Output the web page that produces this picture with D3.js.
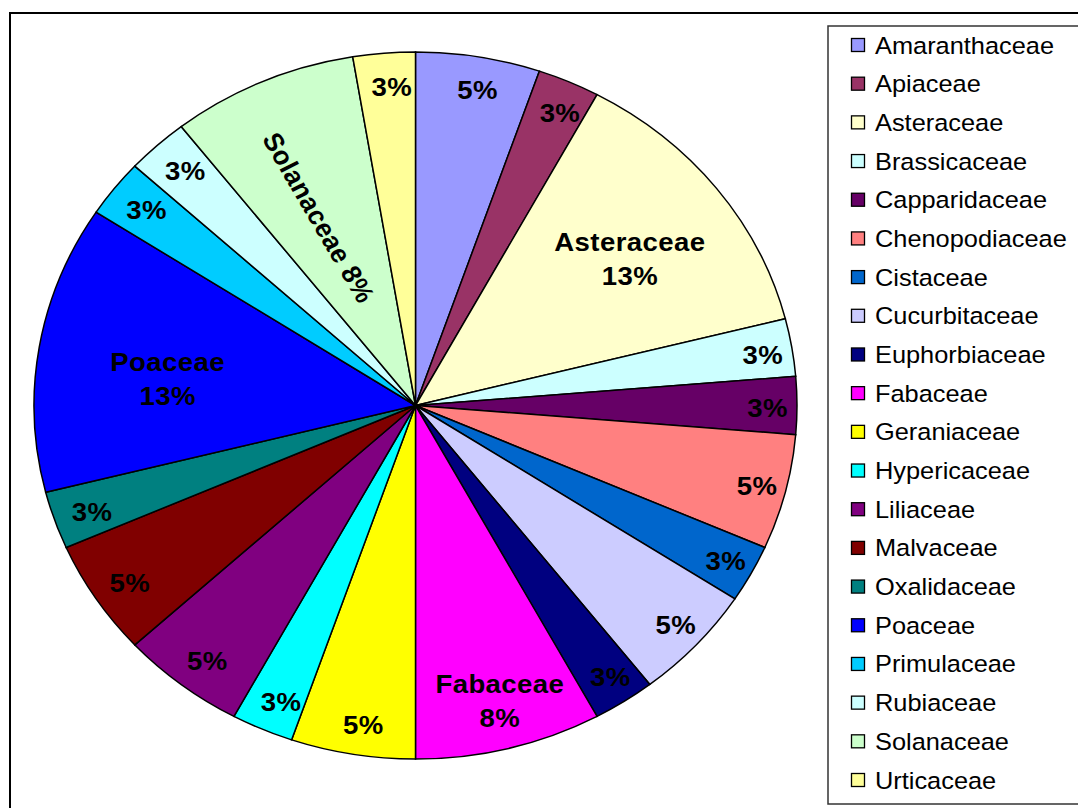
<!DOCTYPE html>
<html><head><meta charset="utf-8">
<script src="https://cdn.jsdelivr.net/npm/d3@7"></script>
<style>html,body{margin:0;padding:0;background:#fff;}svg{display:block;}</style>
</head><body>
<svg id="chart" width="1078" height="808"></svg>
<script>
const categories = ["Amaranthaceae","Apiaceae","Asteraceae","Brassicaceae","Capparidaceae","Chenopodiaceae","Cistaceae","Cucurbitaceae","Euphorbiaceae","Fabaceae","Geraniaceae","Hypericaceae","Liliaceae","Malvaceae","Oxalidaceae","Poaceae","Primulaceae","Rubiaceae","Solanaceae","Urticaceae"];
const counts = [2,1,5,1,1,2,1,2,1,3,2,1,2,2,1,5,1,1,3,1];
const colors = ["#9999FF","#993366","#FFFFCC","#CCFFFF","#660066","#FF8080","#0066CC","#CCCCFF","#000080","#FF00FF","#FFFF00","#00FFFF","#800080","#800000","#008080","#0000FF","#00CCFF","#CCFFFF","#CCFFCC","#FFFF99"];
// label styling: which slices also show the category name
const namedLabels = {"Asteraceae":"stack","Poaceae":"stack","Fabaceae":"stack","Solanaceae":"rotate"};
const labelRadius = {"Asteraceae":0.699,"Poaceae":0.654,"Fabaceae":0.865,"Solanaceae":0.589};
const labelAngleShift = {"Asteraceae":1.4,"Poaceae":-2.9,"Fabaceae":-0.6,"Solanaceae":-1.8};

const svg = d3.select("#chart");
const cx = 415.5, cy = 405.5, ry = 353.5, rx = 381.5, sx = rx / ry;
const font = "'Liberation Sans', Arial, sans-serif";

// outer frame
svg.append("rect").attr("x",10).attr("y",13).attr("width",1090).attr("height",820)
  .attr("fill","none").attr("stroke","#000").attr("stroke-width",2);

const total = d3.sum(counts);
const data = categories.map((c,i)=>({name:c, value:counts[i], color:colors[i]}));
const pie = d3.pie().value(d=>d.value).sort(null);
const arcs = pie(data);
const arc = d3.arc().innerRadius(0).outerRadius(ry);

const pg = svg.append("g").attr("transform",`translate(${cx},${cy}) scale(${sx},1)`);
pg.selectAll("path").data(arcs).join("path")
  .attr("d",arc).attr("fill",d=>d.data.color)
  .attr("stroke","#000").attr("stroke-width",1.5)
  .attr("vector-effect","non-scaling-stroke");

const fmt = v => Math.round(v/total*100) + "%";
const lg = svg.append("g");
arcs.forEach(a=>{
  const name = a.data.name;
  const mode = namedLabels[name];
  const frac = labelRadius[name] || 0.91;
  const mid = (a.startAngle + a.endAngle)/2 + (labelAngleShift[name]||0)*Math.PI/180;
  const la = d3.arc().innerRadius(ry*frac).outerRadius(ry*frac);
  const c = la.centroid({startAngle:mid,endAngle:mid});
  let x = cx + c[0]*sx, y = cy + c[1];
  if (!mode) { x += 5; y += 2; }
  const pct = fmt(a.data.value);
  const g = lg.append("g");
  const t = g.append("text").attr("text-anchor","middle").attr("font-family",font)
    .attr("font-weight","bold").attr("font-size",25.5).attr("fill","#000")
    .attr("letter-spacing",0.4);
  if (mode === "stack") {
    g.attr("transform",`translate(${x},${y}) scale(1.08,1)`);
    t.append("tspan").attr("x",0).attr("y",-8).text(name);
    t.append("tspan").attr("x",0).attr("y",26).text(pct);
  } else if (mode === "rotate") {
    const rot = (mid*180/Math.PI) - 270 - 3;
    g.attr("transform",`translate(${x},${y}) scale(1.08,1) rotate(${rot})`);
    t.attr("y",9).text(name + " " + pct);
  } else {
    g.attr("transform",`translate(${x},${y}) scale(1.08,1)`);
    t.attr("y",9).text(pct);
  }
});

// legend
svg.append("rect").attr("x",828).attr("y",26).attr("width",262).attr("height",778)
  .attr("fill","#fff").attr("stroke","#333").attr("stroke-width",1.5);
const legendY = d3.scaleLinear().domain([0,categories.length-1]).range([45,780]);
const leg = svg.append("g");
data.forEach((d,i)=>{
  const y = legendY(i);
  leg.append("rect").attr("x",851.5).attr("y",y-6.5).attr("width",13).attr("height",13)
    .attr("fill",d.color).attr("stroke","#000").attr("stroke-width",1.3);
  leg.append("text").attr("transform",`translate(875,${y+8.5}) scale(1.08,1)`)
    .attr("font-family",font).attr("font-size",23.5).attr("fill","#000").text(d.name);
});
</script>
</body></html>
